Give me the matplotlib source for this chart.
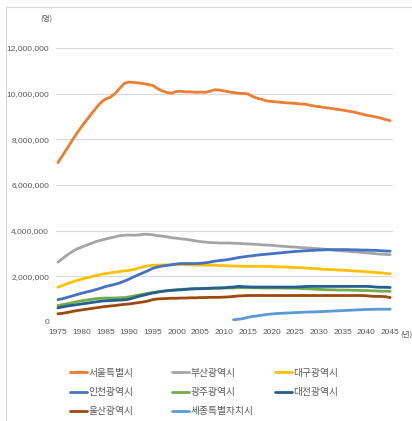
import matplotlib
matplotlib.use("Agg")
from matplotlib import pyplot as plt
from matplotlib.lines import Line2D
from matplotlib.ticker import FuncFormatter

years = list(range(1975, 2046))

# population in millions
seoul = [6.98, 7.30, 7.62, 7.95, 8.27, 8.56, 8.83, 9.10, 9.36, 9.60,
         9.76, 9.84, 10.00, 10.23, 10.45, 10.51, 10.49, 10.47, 10.44, 10.40,
         10.36, 10.22, 10.12, 10.05, 10.02, 10.10, 10.10, 10.08, 10.08, 10.06,
         10.07, 10.06, 10.10, 10.17, 10.16, 10.12, 10.08, 10.05, 10.02, 10.01,
         9.99, 9.88, 9.80, 9.75, 9.68, 9.66, 9.64, 9.62, 9.60, 9.59,
         9.57, 9.55, 9.54, 9.50, 9.46, 9.43, 9.40, 9.37, 9.34, 9.31,
         9.28, 9.24, 9.21, 9.16, 9.11, 9.06, 9.02, 8.98, 8.93, 8.87, 8.82]
busan = [2.62, 2.78, 2.94, 3.08, 3.20, 3.28, 3.36, 3.44, 3.52, 3.58,
         3.63, 3.68, 3.73, 3.78, 3.80, 3.81, 3.80, 3.81, 3.84, 3.84,
         3.82, 3.78, 3.76, 3.73, 3.69, 3.67, 3.64, 3.62, 3.59, 3.55,
         3.52, 3.50, 3.48, 3.47, 3.46, 3.46, 3.46, 3.45, 3.44, 3.43,
         3.42, 3.41, 3.40, 3.38, 3.37, 3.36, 3.34, 3.32, 3.31, 3.29,
         3.28, 3.26, 3.25, 3.24, 3.22, 3.21, 3.19, 3.17, 3.15, 3.13,
         3.11, 3.10, 3.08, 3.07, 3.05, 3.03, 3.01, 2.99, 2.97, 2.96, 2.95]
daegu = [1.52, 1.60, 1.68, 1.75, 1.82, 1.88, 1.93, 1.98, 2.03, 2.08,
         2.12, 2.15, 2.18, 2.21, 2.24, 2.26, 2.30, 2.36, 2.42, 2.46,
         2.48, 2.49, 2.50, 2.50, 2.51, 2.52, 2.52, 2.51, 2.50, 2.49,
         2.49, 2.49, 2.49, 2.49, 2.47, 2.47, 2.46, 2.45, 2.45, 2.44,
         2.44, 2.44, 2.44, 2.44, 2.43, 2.43, 2.42, 2.41, 2.41, 2.40,
         2.39, 2.38, 2.37, 2.35, 2.34, 2.33, 2.31, 2.30, 2.29, 2.28,
         2.27, 2.26, 2.24, 2.23, 2.22, 2.20, 2.18, 2.17, 2.15, 2.13, 2.11]
incheon = [0.98, 1.02, 1.08, 1.14, 1.20, 1.26, 1.31, 1.36, 1.42, 1.48,
           1.55, 1.60, 1.65, 1.71, 1.79, 1.88, 1.98, 2.07, 2.16, 2.25,
           2.35, 2.41, 2.45, 2.48, 2.51, 2.54, 2.56, 2.56, 2.56, 2.56,
           2.57, 2.59, 2.62, 2.66, 2.69, 2.71, 2.74, 2.78, 2.82, 2.85,
           2.88, 2.90, 2.93, 2.95, 2.97, 2.99, 3.01, 3.03, 3.05, 3.07,
           3.09, 3.10, 3.12, 3.13, 3.14, 3.15, 3.16, 3.17, 3.17, 3.17,
           3.17, 3.17, 3.16, 3.16, 3.15, 3.15, 3.14, 3.14, 3.12, 3.11, 3.10]
gwangju = [0.72, 0.76, 0.80, 0.84, 0.89, 0.93, 0.96, 0.99, 1.02, 1.04,
           1.05, 1.05, 1.05, 1.06, 1.07, 1.10, 1.14, 1.18, 1.22, 1.26,
           1.29, 1.32, 1.35, 1.37, 1.39, 1.41, 1.43, 1.44, 1.44, 1.45,
           1.46, 1.46, 1.47, 1.48, 1.48, 1.49, 1.49, 1.49, 1.50, 1.50,
           1.50, 1.50, 1.50, 1.49, 1.49, 1.49, 1.49, 1.49, 1.48, 1.48,
           1.48, 1.47, 1.46, 1.45, 1.44, 1.43, 1.42, 1.41, 1.41, 1.40,
           1.40, 1.40, 1.39, 1.39, 1.38, 1.38, 1.37, 1.36, 1.35, 1.35, 1.34]
daejeon = [0.62, 0.66, 0.70, 0.73, 0.76, 0.79, 0.82, 0.85, 0.88, 0.91,
           0.93, 0.94, 0.95, 0.96, 0.97, 1.00, 1.06, 1.12, 1.17, 1.22,
           1.27, 1.31, 1.34, 1.37, 1.39, 1.40, 1.41, 1.43, 1.45, 1.46,
           1.46, 1.47, 1.48, 1.49, 1.49, 1.50, 1.52, 1.53, 1.56, 1.55,
           1.54, 1.53, 1.53, 1.53, 1.53, 1.53, 1.53, 1.53, 1.53, 1.53,
           1.53, 1.54, 1.55, 1.56, 1.56, 1.56, 1.56, 1.56, 1.56, 1.56,
           1.56, 1.56, 1.56, 1.56, 1.56, 1.56, 1.55, 1.53, 1.52, 1.52, 1.51]
ulsan = [0.36, 0.38, 0.42, 0.46, 0.50, 0.53, 0.56, 0.59, 0.62, 0.65,
         0.68, 0.70, 0.72, 0.75, 0.77, 0.79, 0.82, 0.85, 0.88, 0.92,
         0.98, 1.01, 1.02, 1.03, 1.04, 1.04, 1.05, 1.05, 1.06, 1.06,
         1.07, 1.07, 1.08, 1.08, 1.08, 1.09, 1.10, 1.12, 1.14, 1.15,
         1.16, 1.16, 1.16, 1.16, 1.16, 1.16, 1.16, 1.16, 1.16, 1.16,
         1.16, 1.16, 1.16, 1.16, 1.16, 1.16, 1.16, 1.16, 1.16, 1.16,
         1.16, 1.16, 1.16, 1.16, 1.16, 1.15, 1.13, 1.12, 1.12, 1.11, 1.07]
sejong_years = list(range(2012, 2046))
sejong = [0.10, 0.12, 0.15, 0.20, 0.24, 0.27, 0.30, 0.33, 0.35, 0.37,
          0.38, 0.39, 0.40, 0.41, 0.42, 0.43, 0.44, 0.44, 0.45, 0.46,
          0.47, 0.48, 0.49, 0.50, 0.51, 0.52, 0.53, 0.54, 0.55, 0.55,
          0.56, 0.56, 0.56, 0.56]

names = ["서울특별시", "부산광역시", "대구광역시", "인천광역시",
         "광주광역시", "대전광역시", "울산광역시", "세종특별자치시"]
colors = ["#ed7d31", "#a5a5a5", "#ffc000", "#4472c4",
          "#70ad47", "#255e91", "#9e480e", "#5b9bd5"]

kr_font = ["Noto Sans CJK KR", "DejaVu Sans"]
num_font = ["Liberation Sans Narrow", "Liberation Sans", "DejaVu Sans"]
txt_color = "#595959"

fig = plt.figure(figsize=(4.12, 4.21), dpi=100)
ax = fig.add_axes([56 / 412, 1 - 322 / 421, 337 / 412, 274 / 421])

series = [seoul, busan, daegu, incheon, gwangju, daejeon, ulsan]
handles = []
for vals, name, col in zip(series, names[:7], colors[:7]):
    h, = ax.plot(years, [v * 1e6 for v in vals], color=col, lw=2.0,
                 label=name, solid_capstyle="round")
    handles.append(h)
h, = ax.plot(sejong_years, [v * 1e6 for v in sejong], color=colors[7],
             lw=2.0, label=names[7], solid_capstyle="round")
handles.append(h)

ax.set_xlim(1974.6, 2045.6)
ax.set_ylim(0, 12e6)
ax.set_xticks(range(1975, 2046, 5))
ax.set_yticks(range(0, 12000001, 2000000))
ax.yaxis.set_major_formatter(FuncFormatter(lambda v, p: f"{int(v):,}"))
ax.grid(axis="y", color="#d9d9d9", lw=0.8)
ax.set_axisbelow(True)
for s in ax.spines.values():
    s.set_visible(False)
ax.tick_params(length=0, labelsize=6, labelcolor=txt_color, pad=5)
for lab in ax.get_xticklabels() + ax.get_yticklabels():
    lab.set_family(num_font)

fig.text(40 / 412, 1 - 19 / 421, "(명)", fontsize=5.5, color=txt_color,
         family=kr_font, ha="left", va="center")
fig.text(400 / 412, 1 - 335 / 421, "(년)", fontsize=5.5, color=txt_color,
         family=kr_font, ha="left", va="center")

# legend: one small legend per column so the columns sit where the original has them
columns = [[0, 3, 6], [1, 4, 7], [2, 5]]
col_x = [66, 168, 271]
for idx, cx in zip(columns, col_x):
    leg = fig.legend([handles[i] for i in idx], [names[i] for i in idx],
                     loc="upper left", bbox_to_anchor=(cx / 412, 1 - 364 / 421),
                     frameon=False, prop={"family": kr_font, "size": 7},
                     handlelength=1.8, handletextpad=0.1,
                     labelspacing=0.95, borderaxespad=0)
    for t in leg.get_texts():
        t.set_color(txt_color)

# outer chart frame (clipped by the picture on right/bottom)
fig.add_artist(Line2D([6 / 412, 6 / 412], [0, 1 - 7 / 421], color="#d9d9d9", lw=0.8))
fig.add_artist(Line2D([6 / 412, 1], [1 - 7 / 421, 1 - 7 / 421], color="#d9d9d9", lw=0.8))

fig.savefig("out.png", dpi=100)
